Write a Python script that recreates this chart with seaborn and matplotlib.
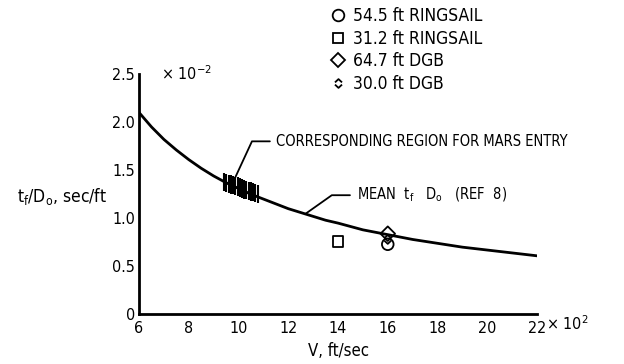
import matplotlib
matplotlib.use("Agg")
import matplotlib.pyplot as plt
import seaborn as sns
import numpy as np
from matplotlib.path import Path
from matplotlib.lines import Line2D

# ---- data ----
curve_v = [6.0, 6.5, 7.0, 7.5, 8.0, 8.5, 9.0, 9.5, 10.0, 10.5, 11.0, 11.5, 12.0, 12.5,
           13.0, 13.5, 14.0, 15.0, 16.0, 17.0, 18.0, 19.0, 20.0, 21.0, 22.0]
curve_t = [2.10, 1.95, 1.82, 1.71, 1.61, 1.52, 1.44, 1.37, 1.31, 1.25, 1.20, 1.15, 1.10, 1.06,
           1.02, 0.98, 0.95, 0.88, 0.83, 0.78, 0.74, 0.70, 0.67, 0.64, 0.61]

hatch_v = [9.42, 9.51, 9.60, 9.69, 9.78, 9.87, 9.96, 10.05, 10.14, 10.23, 10.32, 10.41,
           10.50, 10.59, 10.68, 10.77]
hatch_mid = [1.375, 1.37, 1.36, 1.35, 1.345, 1.335, 1.33, 1.32, 1.31, 1.30, 1.295, 1.285,
             1.28, 1.27, 1.26, 1.255]

series_labels = ["54.5 ft RINGSAIL", "31.2 ft RINGSAIL", "64.7 ft DGB", "30.0 ft DGB"]
series_v = [16.0, 14.0, 16.0, 16.0]
series_t = [0.73, 0.76, 0.84, 0.78]

x_ticks = [6, 8, 10, 12, 14, 16, 18, 20, 22]
y_ticks = [0, 0.5, 1.0, 1.5, 2.0, 2.5]
y_ticklabels = ["0", "0.5", "1.0", "1.5", "2.0", "2.5"]

# ---- style ----
sns.set_theme(style="white")
plt.rcParams["font.family"] = ["DejaVu Sans"]
plt.rcParams["font.stretch"] = "condensed"
plt.rcParams["mathtext.fontset"] = "dejavusans"
for k in ["text.color", "axes.labelcolor", "xtick.color", "ytick.color"]:
    plt.rcParams[k] = "black"

fig = plt.figure(figsize=(6.24, 3.64), dpi=100)
ax = fig.add_axes([0.2228, 0.136, 0.6378, 0.6607])

sns.lineplot(x=curve_v, y=curve_t, ax=ax, color="black", linewidth=2.0)

hw = 0.095
ax.vlines(hatch_v, [m - hw for m in hatch_mid], [m + hw for m in hatch_mid],
          color="black", linewidth=1.5)

chev = Path([(-0.8, 0.25), (0, 1.0), (0.8, 0.25), (-0.8, -0.25), (0, -1.0), (0.8, -0.25)],
            [Path.MOVETO, Path.LINETO, Path.LINETO, Path.MOVETO, Path.LINETO, Path.LINETO])
markers = ["o", "s", "D", chev]
msizes = [70, 55, 55, 40]

handles = []
for lab, v, t, m, s in zip(series_labels, series_v, series_t, markers, msizes):
    sns.scatterplot(x=[v], y=[t], ax=ax, marker=m, s=s, facecolor="none",
                    edgecolor="black", linewidth=1.3, zorder=5)
    handles.append(Line2D([], [], linestyle="none", marker=m, markersize=np.sqrt(s),
                          markerfacecolor="none", markeredgecolor="black",
                          markeredgewidth=1.3, label=lab))

ax.set_xlim(6, 22)
ax.set_ylim(0, 2.5)
ax.set_xticks(x_ticks)
ax.set_xticklabels([str(v) for v in x_ticks])
ax.set_yticks(y_ticks)
ax.set_yticklabels(y_ticklabels)
ax.tick_params(axis="both", direction="in", length=15, width=2, labelsize=11.5,
               colors="black", pad=3)
ax.tick_params(axis="x", pad=5)
for side in ["top", "right"]:
    ax.spines[side].set_visible(False)
for side in ["left", "bottom"]:
    ax.spines[side].set_linewidth(2)
    ax.spines[side].set_color("black")

ax.set_xlabel("V, ft/sec", fontsize=12, labelpad=4)
ax.set_ylabel("t$_\\mathrm{f}$/D$_\\mathrm{o}$, sec/ft", fontsize=12.5, rotation=0,
              ha="center", va="center")
ax.yaxis.set_label_coords(-0.193, 0.49)

ax.text(6.9, 2.5, "\u00d7 10$^{-2}$", fontsize=11.5, va="center", ha="left")
ax.text(22.35, 0.0, "\u00d7 10$^{2}$", fontsize=11.5, va="top", ha="left")

# annotations
ax.plot([9.86, 10.54, 11.26], [1.42, 1.80, 1.80], color="black", linewidth=1.3)
ax.text(11.5, 1.80, "CORRESPONDING REGION FOR MARS ENTRY", fontsize=10.5, va="center", ha="left")
ax.plot([12.71, 13.75, 14.48], [1.05, 1.24, 1.24], color="black", linewidth=1.3)
ax.text(14.75, 1.24, "MEAN  t$_\\mathrm{f}$   D$_\\mathrm{o}$   (REF  8)", fontsize=10.5,
        va="center", ha="left")

ax.legend(handles=handles, loc="upper left", bbox_to_anchor=(331 / 624, 1 - 7 / 364),
          bbox_transform=fig.transFigure, frameon=False, fontsize=12.5,
          handlelength=0.8, handletextpad=0.45, labelspacing=0.27, borderpad=0,
          borderaxespad=0)

fig.savefig("out.png", dpi=100)
